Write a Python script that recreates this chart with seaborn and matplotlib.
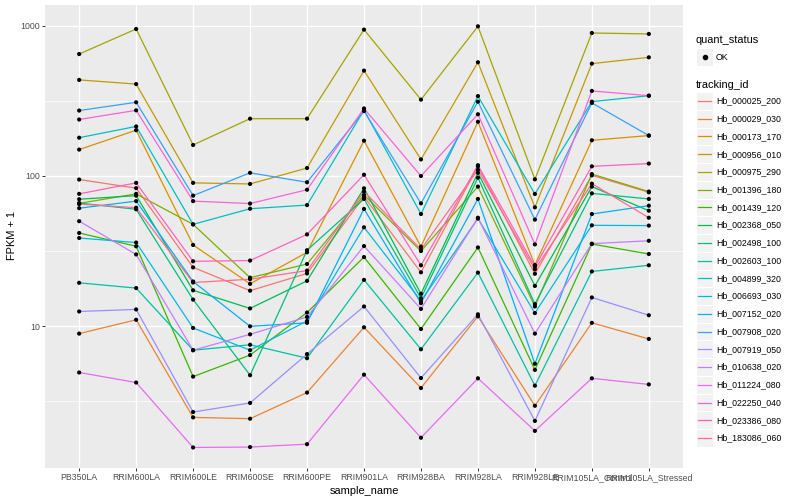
import matplotlib
matplotlib.use("Agg")
import pandas as pd
import seaborn as sns
import matplotlib.pyplot as plt
from matplotlib.lines import Line2D
from matplotlib.patches import Rectangle
from matplotlib.ticker import FixedLocator, NullFormatter

samples = ["PB350LA", "RRIM600LA", "RRIM600LE", "RRIM600SE", "RRIM600PE",
           "RRIM901LA", "RRIM928BA", "RRIM928LA", "RRIM928LE",
           "RRIM105LA_Control", "RRIM105LA_Stressed"]

tracking_ids = ["Hb_000025_200", "Hb_000029_030", "Hb_000173_170", "Hb_000956_010",
                "Hb_000975_290", "Hb_001396_180", "Hb_001439_120", "Hb_002368_050",
                "Hb_002498_100", "Hb_002603_100", "Hb_004899_320", "Hb_006693_030",
                "Hb_007152_020", "Hb_007908_020", "Hb_007919_050", "Hb_010638_020",
                "Hb_011224_080", "Hb_022250_040", "Hb_023386_080", "Hb_183086_060"]

# FPKM + 1, one value per sample
hb_000025_200 = [94.7, 83, 24.6, 17.2, 22.4, 72.8, 22.8, 116, 22.3, 101, 77.9]
hb_000029_030 = [8.9, 11, 2.46, 2.41, 3.6, 9.8, 3.86, 11.6, 2.94, 10.5, 8.2]
hb_000173_170 = [150, 202, 34.7, 19.1, 31, 172, 33.8, 230, 25.5, 173, 186]
hb_000956_010 = [437, 410, 90, 88.5, 113, 504, 129, 573, 61.8, 561, 618]
hb_000975_290 = [650, 955, 161, 241, 241, 946, 323, 995, 95, 898, 885]
hb_001396_180 = [65.7, 76, 47.6, 21, 25.9, 74.7, 31.6, 85, 13.5, 103, 78.7]
hb_001439_120 = [41.7, 34, 4.6, 6.4, 12.3, 28.8, 9.55, 33.4, 5.1, 35.2, 30.2]
hb_002368_050 = [70, 74, 17.3, 13.1, 20, 82.8, 16.4, 105, 18.5, 84.9, 58.7]
hb_002498_100 = [66, 60, 15, 4.7, 32, 70.3, 15.3, 97.5, 14.0, 76.6, 70.3]
hb_002603_100 = [19.4, 17.9, 6.9, 7.5, 6.1, 20.3, 7.0, 22.7, 4.0, 23.1, 25.4]
hb_004899_320 = [180, 214, 47.6, 60.5, 64, 275, 55.8, 341, 75.9, 313, 343]
hb_006693_030 = [38.6, 36, 9.7, 6.9, 10.8, 45.5, 14.7, 52, 12.2, 46.9, 46.7]
hb_007152_020 = [61, 68, 19.8, 9.95, 10.5, 60.3, 14.2, 70.3, 5.6, 55.8, 63.4]
hb_007908_020 = [273, 310, 74, 105, 90.8, 271, 65.7, 313, 51.2, 307, 186]
hb_007919_050 = [12.5, 12.9, 2.67, 3.07, 6.5, 13.5, 4.5, 11.97, 2.33, 15.5, 11.8]
hb_010638_020 = [50, 30, 6.9, 8.8, 11.5, 34.1, 13.0, 52.7, 8.9, 35.4, 37]
hb_011224_080 = [4.9, 4.2, 1.55, 1.56, 1.63, 4.74, 1.8, 4.48, 2.0, 4.48, 4.08]
hb_022250_040 = [238, 274, 68, 65.5, 81, 282, 100, 258, 35, 369, 343]
hb_023386_080 = [76, 90, 27, 27.3, 40.8, 102, 25.4, 118, 24.9, 116, 121]
hb_183086_060 = [65, 61.5, 19.5, 20.5, 23.4, 78.7, 32.4, 110, 23.9, 88.9, 52.7]

series = [hb_000025_200, hb_000029_030, hb_000173_170, hb_000956_010, hb_000975_290,
          hb_001396_180, hb_001439_120, hb_002368_050, hb_002498_100, hb_002603_100,
          hb_004899_320, hb_006693_030, hb_007152_020, hb_007908_020, hb_007919_050,
          hb_010638_020, hb_011224_080, hb_022250_040, hb_023386_080, hb_183086_060]

# ggplot default hue palette, 20 levels
colors = ["#F8766D", "#EA8331", "#D89000", "#C09B00", "#A3A500", "#7CAE00", "#39B600",
          "#00BB4E", "#00BF7D", "#00C1A3", "#00BFC4", "#00BAE0", "#00B0F6", "#35A2FF",
          "#9590FF", "#C77CFF", "#E76BF3", "#FA62DB", "#FF62BC", "#FF6C91"]

rows = []
for tid, vals in zip(tracking_ids, series):
    for s, v in zip(samples, vals):
        rows.append({"tracking_id": tid, "sample_name": s, "fpkm": v, "quant_status": "OK"})
df = pd.DataFrame(rows)

plt.rcParams["font.family"] = ["Liberation Sans", "DejaVu Sans"]

W, H = 800, 500
fig = plt.figure(figsize=(8, 5), dpi=100)
# panel: x 45..683, y 5..468 (pixels)
ax = fig.add_axes([45 / W, 32 / H, 638 / W, 463 / H])
ax.set_facecolor("#EBEBEB")
ax.set_yscale("log")

sns.lineplot(data=df, x="sample_name", y="fpkm", hue="tracking_id",
             hue_order=tracking_ids, palette=colors, estimator=None, sort=False,
             linewidth=0.9, legend=False, ax=ax, zorder=2)
sns.scatterplot(data=df, x="sample_name", y="fpkm", color="black", s=9,
                edgecolor="none", legend=False, ax=ax, zorder=3)

ax.set_xlim(-0.6, 10.6)
ax.set_ylim(1.131, 1380)
ax.yaxis.set_major_locator(FixedLocator([10, 100, 1000]))
ax.set_yticklabels(["10", "100", "1000"])
ax.yaxis.set_minor_locator(FixedLocator([10 ** 0.5, 10 ** 1.5, 10 ** 2.5]))
ax.yaxis.set_minor_formatter(NullFormatter())
ax.set_axisbelow(True)
ax.grid(which="major", color="white", linewidth=1.0)
ax.grid(which="minor", axis="y", color="white", linewidth=0.5)
ax.tick_params(which="minor", length=0)
ax.tick_params(which="major", length=2, width=0.7, color="#333333",
               labelcolor="#4D4D4D", labelsize=6.34, pad=1.6)
for sp in ax.spines.values():
    sp.set_visible(False)
ax.set_xlabel("")
ax.set_ylabel("")

def fx(x):
    return x / W

def fy(y):
    return 1 - y / H

fig.text(fx(364), fy(491), "sample_name", fontsize=7.92, ha="center", va="center")
fig.text(fx(12), fy(236), "FPKM + 1", fontsize=7.92, ha="center", va="center",
         rotation=90)

# legend, drawn ggplot style
key_w, key_h = 17, 17.74
x0 = 696
fig.text(fx(x0), fy(40), "quant_status", fontsize=7.92, ha="left", va="center")
fig.add_artist(Rectangle((fx(x0), fy(57 + key_h / 2)), key_w / W, key_h / H,
                         facecolor="#F2F2F2", edgecolor="white", linewidth=0.8,
                         transform=fig.transFigure))
fig.add_artist(Line2D([fx(x0 + key_w / 2)], [fy(57)], marker="o", markersize=3,
                      color="black", linestyle="none", transform=fig.transFigure))
fig.text(fx(716), fy(57), "OK", fontsize=6.34, ha="left", va="center")

fig.text(fx(x0), fy(85), "tracking_id", fontsize=7.92, ha="left", va="center")
for i, (tid, c) in enumerate(zip(tracking_ids, colors)):
    cy = 101 + i * key_h
    fig.add_artist(Rectangle((fx(x0), fy(cy + key_h / 2)), key_w / W, key_h / H,
                             facecolor="#F2F2F2", edgecolor="white", linewidth=0.8,
                             transform=fig.transFigure))
    fig.add_artist(Line2D([fx(x0 + 1.7), fx(x0 + key_w - 1.7)], [fy(cy), fy(cy)],
                          color=c, linewidth=0.9, transform=fig.transFigure))
    fig.text(fx(716), fy(cy), tid, fontsize=6.34, ha="left", va="center")

fig.savefig("out.png", dpi=100, facecolor="white")
